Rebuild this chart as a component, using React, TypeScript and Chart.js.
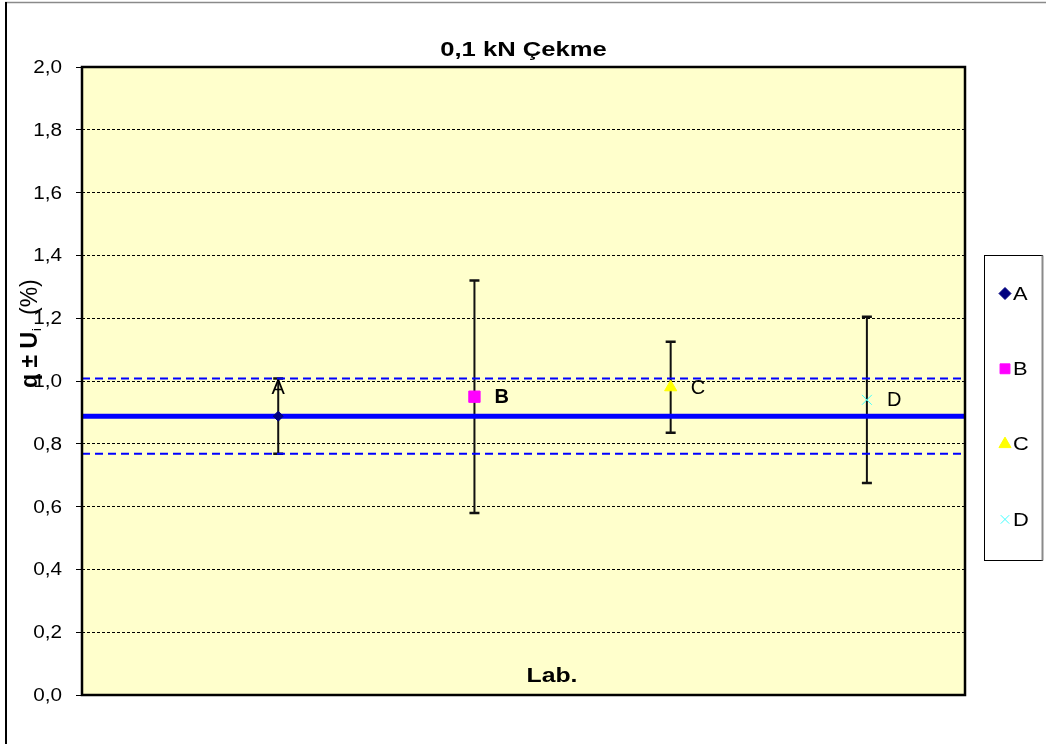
import React, { useEffect, useRef } from 'react';
import { Chart, registerables } from 'chart.js';
import { drawPoint } from 'chart.js/helpers';

Chart.register(...registerables);

// Laboratory results with expanded uncertainties
const labNames = ['A', 'B', 'C', 'D'];
const labPositions = [1, 2, 3, 4];
const labValues = [0.888, 0.95, 0.98, 0.94];
const labUncertainty = [0.12, 0.37, 0.145, 0.265];

// Reference value and its uncertainty band
const refValue = 0.888;
const refUncertainty = 0.12;

const xRange = [0, 4.5];
const yRange = [0, 2];
const yStep = 0.2;

const chartTitle = '0,1 kN Çekme';
const xTitle = 'Lab.';

// Marker appearance per laboratory
const markerStyles = ['rectRot', 'rect', 'triangle', 'crossRot'];
const markerColors = ['#000080', '#FF00FF', '#FFFF00', '#40FFFF'];
const markerRadius = [5, 8, 7, 7];
const legendRadius = [6, 7, 7, 6];
const labelBold = [false, true, false, false];

const FONT = '"Liberation Sans", Arial, sans-serif';

function drawText(
  ctx: CanvasRenderingContext2D,
  text: string,
  x: number,
  y: number,
  font: string,
  align: CanvasTextAlign,
  sx = 1
) {
  ctx.save();
  ctx.font = font;
  ctx.fillStyle = '#000';
  ctx.textBaseline = 'middle';
  ctx.textAlign = align;
  ctx.translate(x, y);
  ctx.scale(sx, 1);
  ctx.fillText(text, 0, 0);
  ctx.restore();
}

const decorPlugin = {
  id: 'decor',
  beforeDraw(chart: any) {
    const { ctx, chartArea } = chart;
    ctx.save();
    ctx.fillStyle = '#fff';
    ctx.fillRect(0, 0, chart.width, chart.height);
    // outer frame
    ctx.strokeStyle = '#8a8a8a';
    ctx.lineWidth = 1.5;
    ctx.beginPath();
    ctx.moveTo(5, 2.5);
    ctx.lineTo(chart.width, 2.5);
    ctx.stroke();
    ctx.strokeStyle = '#000';
    ctx.lineWidth = 2;
    ctx.beginPath();
    ctx.moveTo(6, 2);
    ctx.lineTo(6, chart.height);
    ctx.stroke();
    // plot background
    ctx.fillStyle = '#FFFFCC';
    ctx.fillRect(chartArea.left, chartArea.top, chartArea.right - chartArea.left, chartArea.bottom - chartArea.top);
    ctx.restore();
  },
  beforeDatasetsDraw(chart: any) {
    const { ctx } = chart;
    const xs = chart.scales.x;
    const ys = chart.scales.y;
    ctx.save();
    ctx.strokeStyle = '#111';
    labNames.forEach((_, i) => {
      const x = xs.getPixelForValue(labPositions[i]);
      const yt = ys.getPixelForValue(labValues[i] + labUncertainty[i]);
      const yb = ys.getPixelForValue(labValues[i] - labUncertainty[i]);
      ctx.lineWidth = 2;
      ctx.beginPath();
      ctx.moveTo(x, yt);
      ctx.lineTo(x, yb);
      ctx.stroke();
      ctx.lineWidth = 2.5;
      ctx.beginPath();
      ctx.moveTo(x - 5, yt);
      ctx.lineTo(x + 5, yt);
      ctx.moveTo(x - 5, yb);
      ctx.lineTo(x + 5, yb);
      ctx.stroke();
    });
    ctx.restore();
  },
  afterDatasetsDraw(chart: any) {
    const { ctx } = chart;
    const xs = chart.scales.x;
    const ys = chart.scales.y;
    labNames.forEach((name, i) => {
      const x = xs.getPixelForValue(labPositions[i]);
      const y = ys.getPixelForValue(labValues[i]);
      const font = `${labelBold[i] ? 'bold ' : ''}20px ${FONT}`;
      if (i === 0) {
        drawText(ctx, name, x, y - 28, font, 'center');
      } else {
        drawText(ctx, name, x + 20, y + 1, font, 'left');
      }
    });
  },
  afterDraw(chart: any) {
    const { ctx, chartArea } = chart;
    const ys = chart.scales.y;
    ctx.save();
    // plot border
    ctx.strokeStyle = '#000';
    ctx.lineWidth = 2.5;
    ctx.strokeRect(chartArea.left, chartArea.top, chartArea.right - chartArea.left, chartArea.bottom - chartArea.top);
    ctx.restore();

    // y tick labels
    ys.ticks.forEach((t: any) => {
      const y = ys.getPixelForValue(t.value);
      drawText(ctx, t.value.toFixed(1).replace('.', ','), 62, y + 1, `18px ${FONT}`, 'right', 1.15);
    });

    // titles
    drawText(ctx, chartTitle, (chartArea.left + chartArea.right) / 2, 50, `bold 21px ${FONT}`, 'center', 1.22);
    drawText(ctx, xTitle, 552, 676, `bold 21px ${FONT}`, 'center', 1.18);

    // y axis title, rotated
    ctx.save();
    ctx.fillStyle = '#000';
    ctx.translate(37, 388);
    ctx.rotate(-Math.PI / 2);
    ctx.textBaseline = 'alphabetic';
    ctx.textAlign = 'left';
    ctx.font = `bold 23px ${FONT}`;
    ctx.fillText('q ± U', 0, 0);
    const w = ctx.measureText('q ± U').width;
    ctx.font = `13px ${FONT}`;
    ctx.fillText('i', w + 1, 4);
    ctx.font = `23px ${FONT}`;
    ctx.fillText('(%)', 73, 0);
    ctx.restore();

    // legend
    ctx.save();
    const lx = 984.5;
    const ly = 255.5;
    const lw = 58;
    const lh = 305;
    ctx.fillStyle = '#fff';
    ctx.fillRect(lx, ly, lw, lh);
    ctx.strokeStyle = '#000';
    ctx.lineWidth = 1;
    ctx.strokeRect(lx, ly, lw, lh);
    ctx.strokeStyle = '#8a8a8a';
    ctx.lineWidth = 2;
    ctx.beginPath();
    ctx.moveTo(lx + lw, ly);
    ctx.lineTo(lx + lw, ly + lh);
    ctx.stroke();
    labNames.forEach((name, i) => {
      const cy = ly + 38 + i * 75.3;
      ctx.fillStyle = markerColors[i];
      ctx.strokeStyle = markerColors[i];
      ctx.lineWidth = 1;
      drawPoint(ctx, { pointStyle: markerStyles[i] as any, radius: legendRadius[i], rotation: 0, borderWidth: 1 }, 1005, cy);
      drawText(ctx, name, 1013, cy + 1, `19px ${FONT}`, 'left', 1.15);
    });
    ctx.restore();
  },
};

export default function App() {
  const canvasRef = useRef<HTMLCanvasElement | null>(null);

  useEffect(() => {
    if (!canvasRef.current) return;

    const pointSets = labNames.map((name, i) => ({
      label: name,
      data: [{ x: labPositions[i], y: labValues[i] }],
      pointStyle: markerStyles[i],
      pointRadius: markerRadius[i],
      pointBackgroundColor: markerColors[i],
      pointBorderColor: markerColors[i],
      pointBorderWidth: 1,
      showLine: false,
      order: 0,
    }));

    const hLine = (value: number, width: number, dash: number[]) => ({
      label: '',
      data: [
        { x: xRange[0], y: value },
        { x: xRange[1], y: value },
      ],
      showLine: true,
      borderColor: '#0000FF',
      borderWidth: width,
      borderDash: dash,
      pointRadius: 0,
      order: 1,
    });

    const chart = new Chart(canvasRef.current, {
      type: 'scatter',
      data: {
        datasets: [
          ...pointSets,
          hLine(refValue, 5, []),
          hLine(refValue + refUncertainty, 2, [8, 5]),
          hLine(refValue - refUncertainty, 2, [8, 5]),
        ] as any,
      },
      options: {
        animation: false,
        responsive: false,
        devicePixelRatio: 1,
        layout: { padding: { left: 0, top: 67, right: 81, bottom: 49 } },
        plugins: {
          legend: { display: false },
          title: { display: false },
          tooltip: { enabled: false },
        },
        events: [],
        scales: {
          x: {
            type: 'linear',
            min: xRange[0],
            max: xRange[1],
            display: false,
          },
          y: {
            type: 'linear',
            min: yRange[0],
            max: yRange[1],
            ticks: { stepSize: yStep, display: false },
            grid: {
              color: '#000',
              lineWidth: 1,
              drawTicks: true,
              tickLength: 6,
              tickColor: '#000',
              tickWidth: 1,
              tickBorderDash: [],
            } as any,
            border: { display: false, dash: [3, 2] },
            afterFit(scale: any) {
              scale.width = 82;
            },
          },
        },
      },
      plugins: [decorPlugin],
    });

    return () => chart.destroy();
  }, []);

  return (
    <div style={{ position: 'absolute', left: 0, top: 0, width: 1046, height: 744 }}>
      <canvas ref={canvasRef} width={1046} height={744} style={{ display: 'block' }} />
    </div>
  );
}
